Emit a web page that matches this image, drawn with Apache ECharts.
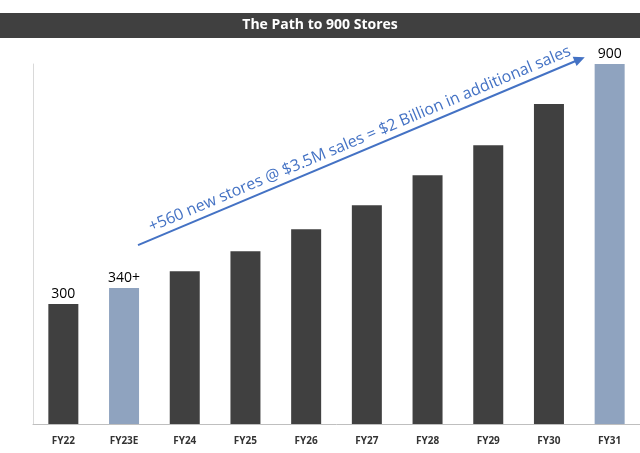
<!DOCTYPE html><html><head><meta charset="utf-8">
<script src="https://cdn.jsdelivr.net/npm/echarts@6/dist/echarts.min.js"></script>
<style>body{margin:0}#c{width:640px;height:453px}</style></head><body><div id="c"></div>
<script>
const categories=['FY22','FY23E','FY24','FY25','FY26','FY27','FY28','FY29','FY30','FY31'];
const stores=[300,340,382,432,487,547,622,697,800,900];
const labels=['300','340+','','','','','','','','900'];
const highlight=[false,true,false,false,false,false,false,false,false,true];
const chart=echarts.init(document.getElementById('c'));
chart.setOption({
 animation:false,
 grid:{left:33,right:0,top:64,bottom:29},
 xAxis:{type:'category',data:categories,axisTick:{show:false},axisLine:{lineStyle:{color:'#bfbfbf'}},
  axisLabel:{color:'#333',fontSize:10,fontWeight:'bold',margin:12,fontFamily:'Open Sans'}},
 yAxis:{type:'value',min:0,max:900,show:true,axisLabel:{show:false},splitLine:{show:false},axisLine:{show:true,lineStyle:{color:'#d9d9d9'}}},
 series:[{type:'bar',barWidth:30,data:stores.map((v,i)=>({value:v,itemStyle:{color:highlight[i]?'#8fa3bf':'#404040'},
  label:{show:!!labels[i],formatter:labels[i],position:'top',color:'#000',fontSize:14,distance:3,fontFamily:'Open Sans'}}))}]
});
function px(xf,y){const i=Math.floor(xf),f=xf-i;const a=chart.convertToPixel({seriesIndex:0},[i,y]);const b=chart.convertToPixel({seriesIndex:0},[i+1,y]);return [a[0]+(b[0]-a[0])*f,a[1]];}
const p1=px(1.23,447);
const p2=px(8.59,917);
const ang=Math.atan2(p2[1]-p1[1],p2[0]-p1[0]);
const mx=(p1[0]+p2[0])/2, my=(p1[1]+p2[1])/2;
const off=4;
chart.setOption({graphic:[{type:'rect',z:100,shape:{x:0,y:13,width:640,height:25},style:{fill:'#404040'}},
  {type:'text',z:101,x:320,y:25.5,style:{text:'The Path to 900 Stores',fill:'#fff',font:'bold 14px "Open Sans", sans-serif',align:'center',verticalAlign:'middle'}},
  {type:'line',z:100,shape:{x1:p1[0],y1:p1[1],x2:p2[0]-6*Math.cos(ang),y2:p2[1]-6*Math.sin(ang)},style:{stroke:'#4472c4',lineWidth:2}},
  {type:'polygon',z:101,x:p2[0],y:p2[1],rotation:-ang,shape:{points:[[0,0],[-11,-5],[-11,5]]},style:{fill:'#4472c4'}},
  {type:'text',z:100,x:mx+3+off*Math.sin(ang),y:my-1-off*Math.cos(ang),rotation:-ang,style:{text:'+560 new stores @ $3.5M sales = $2 Billion in additional sales',fill:'#4472c4',font:'16px "Open Sans", sans-serif',align:'center',verticalAlign:'bottom'}}]});
</script></body></html>
